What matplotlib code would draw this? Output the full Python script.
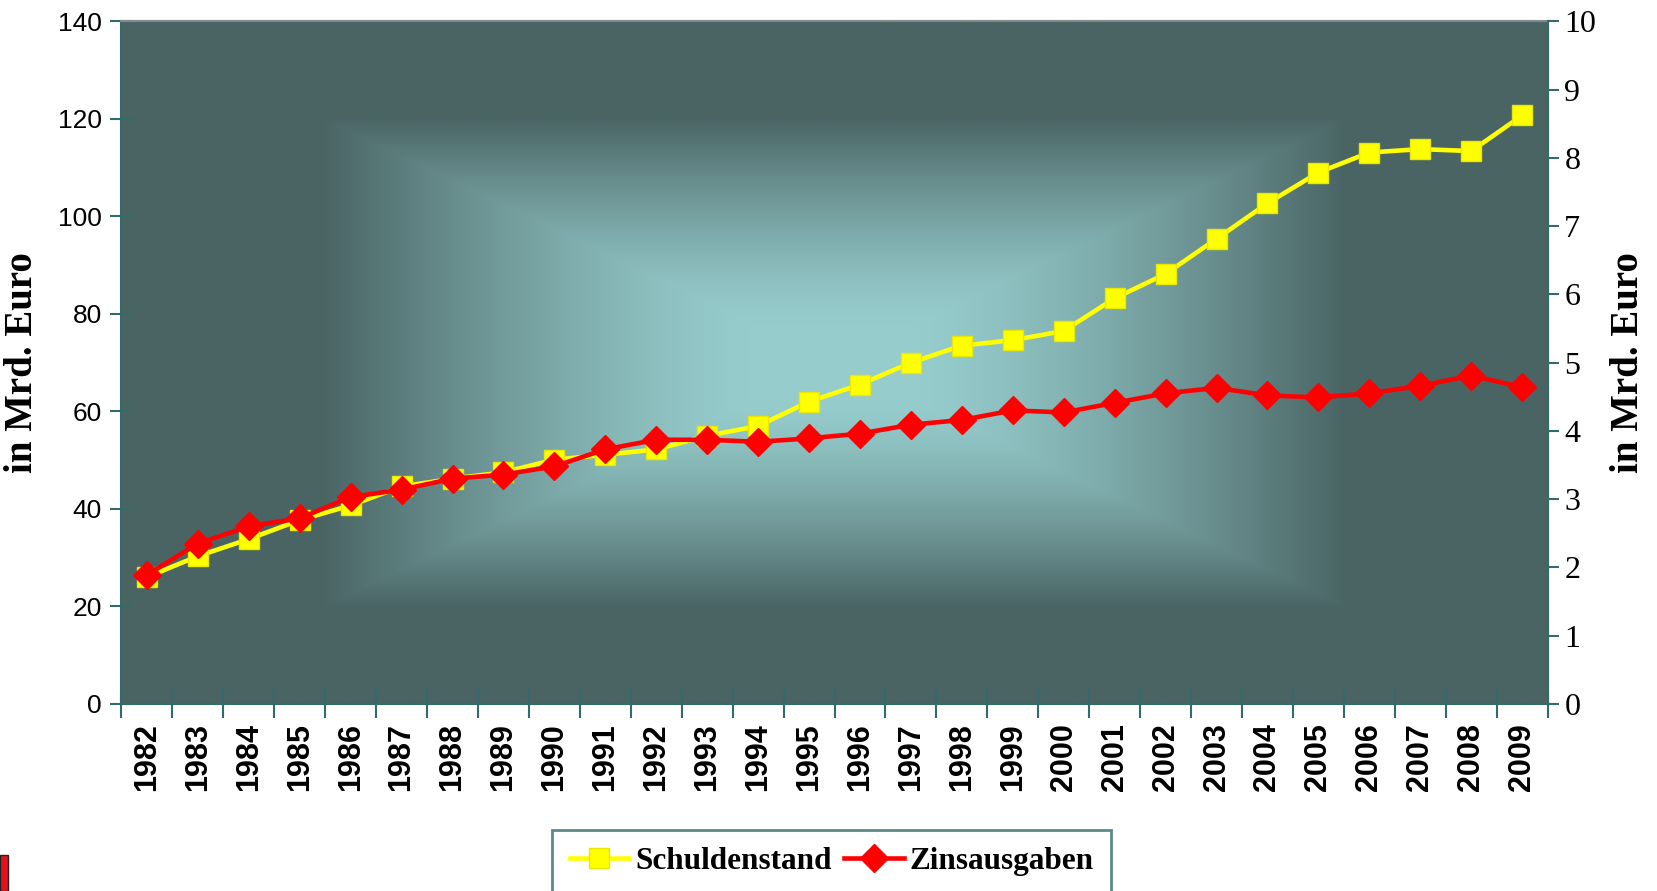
import numpy as np
import matplotlib
matplotlib.use("Agg")
import matplotlib.pyplot as plt
from matplotlib import font_manager as fm
from matplotlib.patches import Rectangle

years = [str(y) for y in range(1982, 2010)]
schulden = [26.0, 30.3, 33.8, 37.7, 40.7, 44.6, 46.2, 47.5, 50.1, 51.1,
            52.2, 55.0, 57.0, 62.0, 65.5, 70.0, 73.5, 74.6, 76.5, 83.2,
            88.2, 95.4, 102.7, 109.0, 113.1, 113.8, 113.4, 120.7]
zinsen = [1.89, 2.35, 2.60, 2.72, 3.03, 3.14, 3.30, 3.36, 3.48, 3.73,
          3.87, 3.87, 3.84, 3.89, 3.96, 4.09, 4.16, 4.30, 4.27, 4.41,
          4.55, 4.63, 4.52, 4.49, 4.55, 4.66, 4.81, 4.64]

teal = "#336b6b"
serif = ["Liberation Serif", "DejaVu Serif"]
installed = {f.name for f in fm.fontManager.ttflist}
if "Liberation Sans Narrow" in installed:
    sans = ["Liberation Sans Narrow", "DejaVu Sans"]
    ysize, xsize = 23, 24
else:
    sans = ["Liberation Sans", "DejaVu Sans"]
    ysize, xsize = 19, 22

fig = plt.figure(figsize=(16.57, 8.91), dpi=100)
ax = fig.add_axes([0.0733, 0.210, 0.8607, 0.766])
x = np.arange(len(years))

# rectangular "from center" gradient background
gx = np.linspace(-1, 1, 600)
gy = np.linspace(-1, 1, 300)
GX, GY = np.meshgrid(gx, gy)
t = np.maximum(np.abs(GX), np.abs(GY))
s = np.clip((t - 0.12) / 0.6, 0, 1) ** 1.35
light = np.array([0x96, 0xcc, 0xcc]) / 255
dark = np.array([0x4a, 0x64, 0x64]) / 255
img = light[None, None, :] * (1 - s[..., None]) + dark[None, None, :] * s[..., None]
ax.imshow(img, extent=[0, 1, 0, 1], transform=ax.transAxes, aspect="auto",
          zorder=0, interpolation="bilinear")

ax.plot(x, schulden, color="#ffff00", lw=3.3, marker="s", ms=15,
        markeredgecolor="#e8e800", zorder=3, label="Schuldenstand")
ax.set_xlim(-0.5, len(years) - 0.5)
ax.set_ylim(0, 140)
ax.set_yticks(range(0, 141, 20))
ax.set_xticks(np.arange(len(years) + 1) - 0.5, minor=False)
ax.set_xticklabels([])
ax.set_xticks(x, minor=True)
ax.set_xticklabels(years, minor=True, rotation=90, fontsize=xsize,
                   fontweight="bold", family=sans)
ax.tick_params(axis="x", which="minor", length=0, pad=14)
ax.tick_params(axis="x", which="major", direction="inout", length=20,
               color=teal, width=1.5)
ax.tick_params(axis="y", direction="inout", length=16, color=teal, width=1.5,
               labelsize=ysize, pad=6)
for lab in ax.get_yticklabels():
    lab.set_family(sans)
ax.set_ylabel("in Mrd. Euro", fontsize=28, fontweight="bold", family=serif,
              labelpad=12)
for side in ["left", "bottom", "right"]:
    ax.spines[side].set_color(teal)
    ax.spines[side].set_linewidth(1.5)
ax.spines["top"].set_color("#888888")
ax.spines["top"].set_linewidth(1.5)

ax2 = ax.twinx()
ax2.plot(x, zinsen, color="#ff0000", lw=3.3, marker="D", ms=14,
         zorder=4, label="Zinsausgaben")
ax2.set_ylim(0, 10)
ax2.set_yticks(range(0, 11))
ax2.tick_params(axis="y", direction="out", length=8, color=teal, width=1.5,
                labelsize=23, pad=4)
for lab in ax2.get_yticklabels():
    lab.set_family(serif)
ax2.set_ylabel("in Mrd. Euro", fontsize=28, fontweight="bold", family=serif,
               labelpad=10)
ax2.spines["right"].set_color(teal)
ax2.spines["right"].set_linewidth(1.5)
ax2.spines["left"].set_visible(False)
ax2.spines["bottom"].set_visible(False)
ax2.spines["top"].set_visible(False)

h1, l1 = ax.get_legend_handles_labels()
h2, l2 = ax2.get_legend_handles_labels()
leg = fig.legend(h1 + h2, l1 + l2, loc="upper center",
                 bbox_to_anchor=(0.502, 0.069), ncol=2, frameon=True,
                 fancybox=False, handlelength=1.9, columnspacing=0.4,
                 handletextpad=0.2, borderpad=0.55, borderaxespad=0,
                 prop={"family": serif, "weight": "bold", "size": 22.5})
leg.get_frame().set_edgecolor(teal)
leg.get_frame().set_linewidth(2)

# cropped logo fragment in the lower left corner
fig.patches.append(Rectangle((0, 0), 8 / 1657, 36 / 891, transform=fig.transFigure,
                             facecolor="#e8101a", edgecolor="#222222", lw=1))

fig.savefig("out.png", dpi=100)
